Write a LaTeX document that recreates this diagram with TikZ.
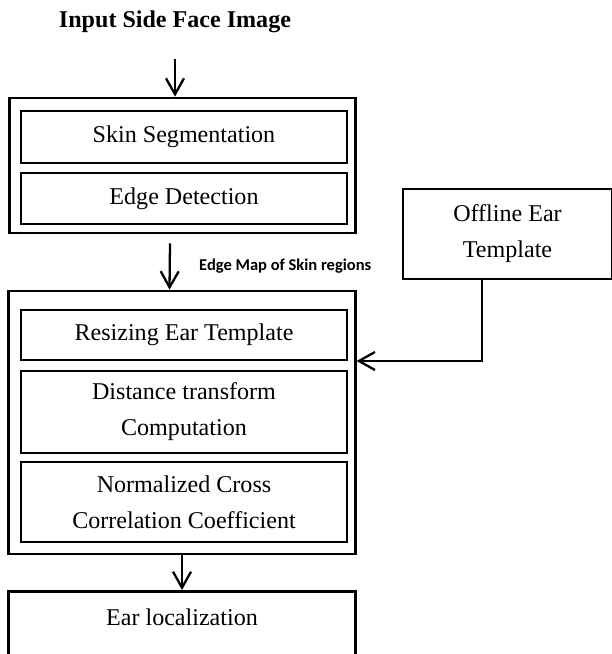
\documentclass[tikz,border=0pt]{standalone}
\usepackage{fontspec}
\setmainfont{Liberation Serif}
\newfontfamily\lblfont{Carlito}
\usetikzlibrary{arrows.meta,positioning}

\begin{document}
\begin{tikzpicture}[x=0.02cm,y=-0.02cm,
  outerbox/.style={draw,line width=1.6pt,minimum width=6.93cm},
  stepbox/.style={draw,line width=1.4pt,minimum width=6.52cm,align=center,font=\fontsize{13.7}{20.5}\selectfont},
  arr/.style={-{Straight Barb[length=0.32cm,width=0.36cm]},line width=1.3pt}]
\path[use as bounding box,clip] (0,0) rectangle (612,654);
\node[font=\fontsize{13.7}{16}\selectfont\bfseries] (title) at (175,22){Input Side Face Image};
\node[outerbox,minimum height=2.70cm] (detect) at (182.5,165.5){};
\node[stepbox,minimum height=1.04cm] (skin) at (184,137){Skin Segmentation};
\node[stepbox,minimum height=1.02cm] (edge) at (184,198.5){Edge Detection};
\node[outerbox,minimum height=5.26cm] (match) at (182,422.5){};
\node[stepbox,minimum height=1.00cm] (resize) at (184,335){Resizing Ear Template};
\node[stepbox,minimum height=1.64cm] (dist) at (184,412){Distance transform\\Computation};
\node[stepbox,minimum height=1.60cm] (ncc) at (184,502){Normalized Cross\\Correlation Coefficient};
\node[outerbox,anchor=north,inner ysep=0.2cm,text height=0.48cm,text depth=1.0cm,font=\fontsize{13.7}{16}\selectfont] (ear) at (182,590){Ear localization};
\node[stepbox,minimum width=4.18cm,minimum height=1.80cm] (template) at (507.5,234){Offline Ear\\Template};
\coordinate (bend) at (482,361);
\draw[arr] ([yshift=-0.4cm]title.south) -- (title.south |- detect.north);
\draw[arr] ([xshift=-0.25cm,yshift=-0.18cm]detect.south) -- ([xshift=-0.25cm]match.north) node[midway,right=0.45cm,font=\lblfont\fontsize{9.4}{11}\selectfont\bfseries] (maplabel){Edge Map of Skin regions};
\draw[arr] (match.south) -- (ear.north);
\draw[arr] (bend |- template.south) -- (bend) -- (bend -| match.east);
\end{tikzpicture}
\end{document}
